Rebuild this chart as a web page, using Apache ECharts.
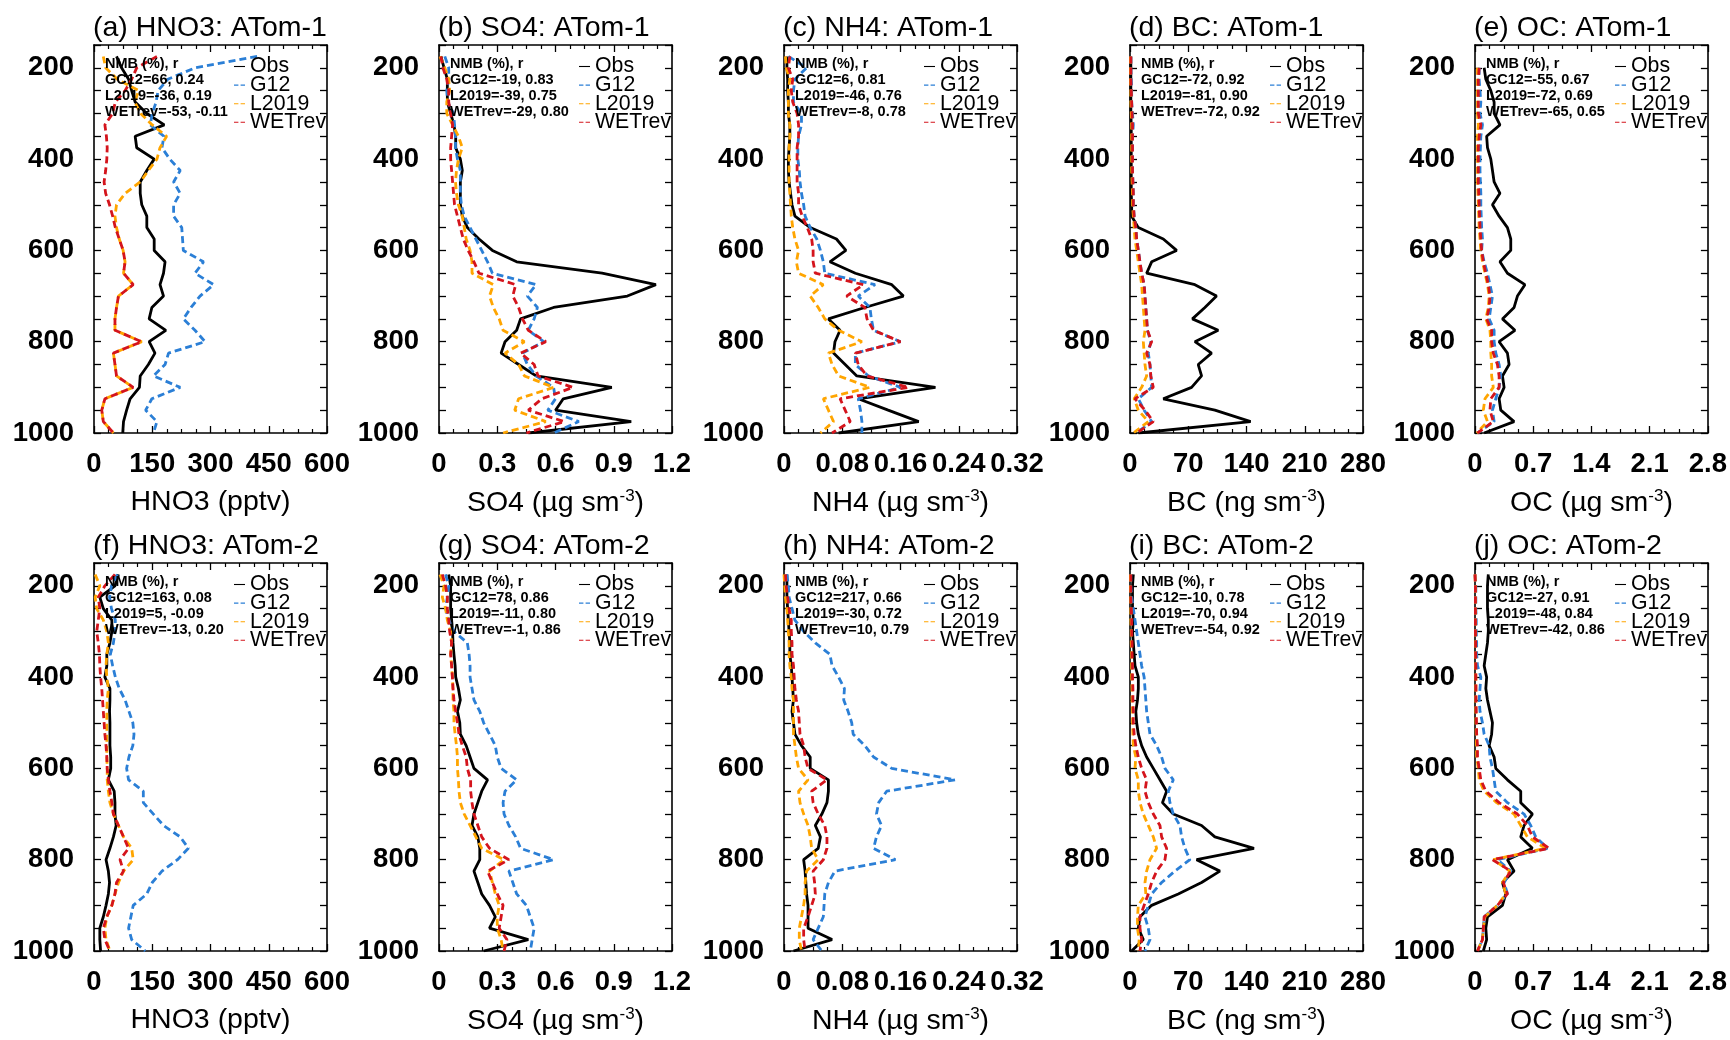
<!DOCTYPE html>
<html>
<head>
<meta charset="utf-8">
<script src="https://cdn.jsdelivr.net/npm/echarts@6/dist/echarts.min.js"></script>
<style>
  html, body { margin: 0; background: #fff; }
  #chart { width: 1730px; height: 1040px; }
</style>
</head>
<body>
<div id="chart"></div>
<script>
// pressure levels (hPa), shared by every profile
const pressure = [175, 200, 225, 250, 275, 300, 325, 350, 375, 400, 425, 450, 475, 500, 525, 550, 575,
  600, 625, 650, 675, 700, 725, 750, 775, 800, 825, 850, 875, 900, 925, 950, 975, 1000];

// ---- ATom-1 ----
const a1Obs = [58,71,89,97,106,136,181,106,110,155,136,119,119,123,136,136,155,155,183,179,170,179,149,142,185,142,157,140,119,117,93,84,76,74];
const a1G12 = [420,260,190,165,160,150,145,180,175,195,222,205,222,205,205,226,228,230,282,260,308,273,250,230,260,286,192,183,153,222,149,133,162,153];
const a1L2019 = [24,30,60,115,105,120,150,187,170,162,140,119,80,58,54,58,65,75,80,76,101,63,58,54,54,123,50,54,58,101,28,20,24,50];
const a1WETrev = [162,110,97,80,55,48,28,32,34,33,30,26,30,40,48,55,65,75,80,76,101,63,58,54,54,123,50,54,58,101,28,20,24,50];

const b1Obs = [0.01,0.026,0.043,0.043,0.043,0.06,0.077,0.086,0.086,0.11,0.12,0.11,0.11,0.11,0.12,0.146,0.206,0.275,0.40,0.84,1.117,0.97,0.59,0.42,0.40,0.34,0.32,0.41,0.50,0.89,0.64,0.60,0.99,0.46];
const b1G12 = [0.03,0.05,0.05,0.04,0.045,0.075,0.08,0.085,0.085,0.095,0.11,0.11,0.11,0.115,0.13,0.16,0.19,0.22,0.25,0.275,0.50,0.455,0.507,0.49,0.46,0.54,0.43,0.455,0.50,0.59,0.60,0.56,0.72,0.59];
const b1L2019 = [0.005,0.03,0.05,0.055,0.04,0.04,0.07,0.1,0.12,0.1,0.09,0.085,0.09,0.1,0.12,0.13,0.14,0.16,0.17,0.17,0.28,0.26,0.28,0.31,0.33,0.44,0.34,0.41,0.44,0.59,0.41,0.39,0.55,0.33];
const b1WETrev = [0.01,0.02,0.04,0.05,0.05,0.06,0.07,0.065,0.06,0.06,0.065,0.07,0.075,0.08,0.095,0.11,0.125,0.15,0.18,0.206,0.395,0.38,0.41,0.43,0.46,0.55,0.42,0.49,0.51,0.69,0.53,0.46,0.645,0.45];

const c1Obs = [0.004,0.004,0.005,0.005,0.006,0.006,0.008,0.008,0.007,0.006,0.006,0.007,0.009,0.011,0.015,0.036,0.072,0.085,0.063,0.098,0.148,0.164,0.111,0.061,0.077,0.070,0.068,0.084,0.10,0.208,0.102,0.143,0.185,0.075];
const c1G12 = [0.006,0.031,0.015,0.013,0.013,0.024,0.024,0.02,0.019,0.019,0.021,0.022,0.024,0.027,0.029,0.036,0.045,0.05,0.054,0.056,0.125,0.102,0.118,0.12,0.123,0.16,0.098,0.098,0.116,0.16,0.102,0.105,0.107,0.107];
const c1L2019 = [0.002,0.003,0.008,0.006,0.006,0.006,0.008,0.008,0.007,0.007,0.007,0.007,0.008,0.009,0.01,0.012,0.015,0.02,0.017,0.02,0.054,0.036,0.047,0.056,0.075,0.107,0.061,0.066,0.075,0.118,0.054,0.061,0.068,0.05];
const c1WETrev = [0.008,0.006,0.012,0.01,0.012,0.018,0.02,0.02,0.018,0.018,0.018,0.018,0.02,0.02,0.025,0.032,0.038,0.04,0.04,0.043,0.109,0.086,0.111,0.114,0.123,0.16,0.098,0.102,0.114,0.171,0.077,0.084,0.091,0.066];

const d1Obs = [1,1,1,1,1,1,1.5,1.5,1.5,1.5,1.5,1.5,1.5,2,2,10,40,56,26,20,78,104,90,75,106,78,98,82,86,74,40,102,145,10];
const d1G12 = [1,1,1.5,2,2,3,4,3,3,3,3,3.5,4,4,5,7,8,10,12,14,17,18,19,20,21,25,22,24,25,26,10,17,26,8];
const d1L2019 = [0.5,0.5,0.5,1,1,1.5,2,2,2,2,2,2.5,3,3,4,5,6,8,10,12,14,15,16,17,18,16,17,18,20,14,5,10,22,4];
const d1WETrev = [1,1,1,1.5,2,2.5,3,3,3,3,3,3.5,4,4,5,7,8,10,12,14,17,18,19,20,21,26,20,24,25,28,6,18,28,8];

const e1Obs = [null,0.11,0.13,0.19,0.23,0.23,0.30,0.14,0.15,0.19,0.21,0.23,0.30,0.21,0.29,0.39,0.43,0.43,0.30,0.39,0.60,0.51,0.47,0.33,0.48,0.29,0.39,0.41,0.33,0.35,0.29,0.31,0.47,0.11];
const e1G12 = [null,0.05,0.05,0.06,0.07,0.06,0.09,0.07,0.065,0.06,0.06,0.065,0.07,0.07,0.075,0.08,0.09,0.08,0.11,0.15,0.18,0.21,0.19,0.17,0.23,0.23,0.25,0.29,0.31,0.29,0.25,0.21,0.23,0.03];
const e1L2019 = [null,0.03,0.03,0.03,0.03,0.03,0.04,0.03,0.03,0.03,0.03,0.03,0.035,0.04,0.045,0.05,0.06,0.07,0.09,0.12,0.15,0.17,0.16,0.13,0.18,0.19,0.19,0.20,0.20,0.22,0.12,0.10,0.15,0.02];
const e1WETrev = [null,0.05,0.04,0.04,0.04,0.04,0.07,0.05,0.04,0.04,0.04,0.04,0.045,0.05,0.055,0.06,0.07,0.08,0.10,0.13,0.16,0.18,0.17,0.14,0.20,0.20,0.22,0.27,0.29,0.29,0.19,0.18,0.22,0.03];

// ---- ATom-2 ----
const f2Obs = [63,54,15,24,46,46,41,33,33,28,41,41,40,41,41,41,43,43,37,52,54,54,57,50,41,31,37,40,37,31,24,15,15,17];
const f2G12 = [60,45,40,45,55,54,50,42,48,55,65,80,90,100,103,100,90,84,89,127,127,153,179,222,243,215,175,150,136,101,95,89,97,132];
const f2L2019 = [3,15,3,7,24,33,37,33,31,33,37,34,33,33,33,33,33,34,34,37,41,50,63,76,97,101,76,63,54,46,33,28,31,41];
const f2WETrev = [54,28,11,15,11,7,11,14,15,17,20,22,24,26,28,31,33,34,37,41,46,50,63,76,89,67,76,58,54,46,33,24,28,41];

const g2Obs = [0.05,0.06,0.06,0.06,0.065,0.07,0.072,0.077,0.083,0.086,0.10,0.11,0.095,0.107,0.11,0.14,0.16,0.18,0.25,0.22,0.20,0.18,0.17,0.20,0.21,0.21,0.18,0.20,0.22,0.26,0.29,0.26,0.46,0.23];
const g2G12 = [0.034,0.05,0.043,0.034,0.05,0.077,0.146,0.155,0.16,0.16,0.17,0.18,0.21,0.23,0.26,0.29,0.30,0.32,0.40,0.34,0.33,0.335,0.36,0.395,0.42,0.59,0.36,0.38,0.40,0.45,0.47,0.49,0.48,0.47];
const g2L2019 = [0.005,0.026,0.017,0.034,0.043,0.06,0.065,0.06,0.065,0.069,0.072,0.072,0.077,0.077,0.083,0.09,0.095,0.095,0.10,0.103,0.11,0.13,0.16,0.19,0.22,0.335,0.26,0.275,0.29,0.31,0.30,0.30,0.32,0.33];
const g2WETrev = [0.017,0.034,0.043,0.043,0.05,0.055,0.065,0.06,0.065,0.069,0.072,0.077,0.086,0.095,0.103,0.12,0.14,0.146,0.163,0.163,0.17,0.18,0.20,0.22,0.26,0.36,0.25,0.275,0.30,0.33,0.32,0.31,0.35,0.335];

const h2Obs = [0.004,0.004,0.004,0.005,0.006,0.007,0.008,0.008,0.010,0.011,0.012,0.013,0.011,0.013,0.015,0.024,0.036,0.036,0.061,0.061,0.059,0.052,0.043,0.05,0.047,0.027,0.029,0.030,0.031,0.033,0.033,0.033,0.066,0.013];
const h2G12 = [0.004,0.006,0.007,0.011,0.015,0.027,0.043,0.063,0.066,0.075,0.083,0.082,0.088,0.093,0.095,0.111,0.123,0.148,0.235,0.141,0.13,0.127,0.134,0.127,0.123,0.153,0.07,0.061,0.056,0.055,0.054,0.047,0.04,0.052];
const h2L2019 = [0.0,0.001,0.002,0.004,0.005,0.006,0.007,0.007,0.008,0.010,0.011,0.013,0.013,0.013,0.013,0.015,0.017,0.020,0.033,0.020,0.022,0.027,0.033,0.036,0.038,0.047,0.031,0.029,0.029,0.027,0.024,0.021,0.021,0.024];
const h2WETrev = [0.002,0.003,0.005,0.007,0.01,0.01,0.011,0.011,0.013,0.014,0.015,0.017,0.020,0.021,0.022,0.027,0.029,0.033,0.059,0.038,0.040,0.047,0.056,0.059,0.059,0.054,0.040,0.042,0.043,0.038,0.033,0.027,0.027,0.029];

const i2Obs = [4,3,3,3,4,3,4,5,6,10,10,9,7,8,10,14,20,28,36,44,39,52,86,102,149,80,108,86,58,26,12,10,16,2];
const i2G12 = [1,1,2,4,6,8,10,12,14,17,18,19,20,22,24,32,38,42,52,46,48,52,60,62,66,72,54,38,26,22,18,22,24,18];
const i2L2019 = [0.5,0.5,0.8,1,1,1.5,1.5,2,2,2,2.5,2.5,3,3,3.5,4,7,6,10,10,12,16,22,28,32,24,20,18,19,10,9,9,11,10];
const i2WETrev = [1,1,1,1.5,2,2,2.5,2.5,3,3,3.5,3.5,4,4,5,7,10,14,20,18,22,28,36,38,44,42,32,26,22,17,12,12,14,12];

const j2Obs = [0.16,0.15,0.15,0.15,0.16,0.16,0.15,0.13,0.11,0.14,0.13,0.15,0.18,0.21,0.20,0.17,0.23,0.25,0.39,0.55,0.55,0.69,0.59,0.55,0.69,0.39,0.47,0.33,0.37,0.33,0.15,0.13,0.14,0.10];
const j2G12 = [0.0,0.01,0.01,0.01,0.015,0.015,0.02,0.02,0.03,0.07,0.06,0.05,0.06,0.09,0.11,0.17,0.18,0.21,0.23,0.25,0.39,0.59,0.67,0.73,0.87,0.27,0.43,0.35,0.39,0.27,0.11,0.10,0.09,0.03];
const j2L2019 = [0.0,0.005,0.005,0.005,0.005,0.005,0.008,0.008,0.008,0.01,0.01,0.01,0.01,0.012,0.015,0.018,0.02,0.04,0.05,0.11,0.26,0.47,0.55,0.63,0.85,0.22,0.42,0.33,0.37,0.27,0.12,0.10,0.09,0.03];
const j2WETrev = [0.0,0.005,0.005,0.005,0.005,0.005,0.008,0.008,0.01,0.01,0.012,0.012,0.015,0.018,0.02,0.03,0.03,0.05,0.07,0.13,0.29,0.51,0.63,0.69,0.89,0.21,0.43,0.34,0.39,0.27,0.11,0.10,0.09,0.03];

// NMB (%) and r printed in each panel
const nmbText = [
  ['GC12=66, 0.24', 'L2019=-36, 0.19', 'WETrev=-53, -0.11'],
  ['GC12=-19, 0.83', 'L2019=-39, 0.75', 'WETrev=-29, 0.80'],
  ['GC12=6, 0.81', 'L2019=-46, 0.76', 'WETrev=-8, 0.78'],
  ['GC12=-72, 0.92', 'L2019=-81, 0.90', 'WETrev=-72, 0.92'],
  ['GC12=-55, 0.67', 'L2019=-72, 0.69', 'WETrev=-65, 0.65'],
  ['GC12=163, 0.08', 'L2019=5, -0.09', 'WETrev=-13, 0.20'],
  ['GC12=78, 0.86', 'L2019=-11, 0.80', 'WETrev=-1, 0.86'],
  ['GC12=217, 0.66', 'L2019=-30, 0.72', 'WETrev=10, 0.79'],
  ['GC12=-10, 0.78', 'L2019=-70, 0.94', 'WETrev=-54, 0.92'],
  ['GC12=-27, 0.91', 'L2019=-48, 0.84', 'WETrev=-42, 0.86']
];

const species = ['HNO3', 'SO4', 'NH4', 'BC', 'OC'];
const xMax = [600, 1.2, 0.32, 280, 2.8];
const xStep = [150, 0.3, 0.08, 70, 0.7];
const xNames = ['HNO3 (pptv)', '{n|SO4 (µg sm}{s|-3}{n|)}', '{n|NH4 (µg sm}{s|-3}{n|)}', '{n|BC (ng sm}{s|-3}{n|)}', '{n|OC (µg sm}{s|-3}{n|)}'];
const tags = ['(a)', '(b)', '(c)', '(d)', '(e)', '(f)', '(g)', '(h)', '(i)', '(j)'];
const missions = ['ATom-1', 'ATom-2'];
const seriesNames = ['Obs', 'G12', 'L2019', 'WETrev'];
const seriesColors = ['#000000', '#2b7fd6', '#ffa500', '#d4141c'];

const profiles = [
  [a1Obs, a1G12, a1L2019, a1WETrev], [b1Obs, b1G12, b1L2019, b1WETrev], [c1Obs, c1G12, c1L2019, c1WETrev],
  [d1Obs, d1G12, d1L2019, d1WETrev], [e1Obs, e1G12, e1L2019, e1WETrev],
  [f2Obs, f2G12, f2L2019, f2WETrev], [g2Obs, g2G12, g2L2019, g2WETrev], [h2Obs, h2G12, h2L2019, h2WETrev],
  [i2Obs, i2G12, i2L2019, i2WETrev], [j2Obs, j2G12, j2L2019, j2WETrev]
];

// layout
const colLeft = [94, 439, 784, 1130, 1475];
const rowTop = [45, 563];
const plotW = 233, plotH = 388;
const FONT = 'Liberation Sans';
// legend glyphs: solid bar for Obs, two short dashes for the models
const solidIcon = 'path://M0,0h10v1h-10z';
const dashIcon = 'path://M0,0h4v1h-4zM6,0h4v1h-4z';

const chart = echarts.init(document.getElementById('chart'));
const grid = [], xAxis = [], yAxis = [], series = [], legend = [], graphic = [];

profiles.forEach((set, p) => {
  const col = p % 5, row = Math.floor(p / 5);
  const left = colLeft[col], top = rowTop[row];
  grid.push({ left: left, top: top, width: plotW, height: plotH });

  const tick = { show: true, inside: true, length: 7, lineStyle: { color: '#000', width: 1.3 } };
  const line = { show: true, onZero: false, lineStyle: { color: '#000', width: 1.6 } };
  const xBase = { type: 'value', gridIndex: p, min: 0, max: xMax[col], interval: xStep[col],
    splitLine: { show: false }, axisLine: line, axisTick: tick,
    minorTick: { show: true, splitNumber: 4, length: 4, lineStyle: { color: '#000', width: 1.2 } } };
  xAxis.push(Object.assign({}, xBase, {
    position: 'bottom',
    axisLabel: { margin: 17, fontSize: 27.5, fontWeight: 'bold', color: '#000', fontFamily: FONT, showMaxLabel: true, hideOverlap: false },
    name: xNames[col], nameLocation: 'middle', nameGap: 55,
    nameTextStyle: { fontSize: 28.5, color: '#000', fontFamily: FONT,
      rich: { n: { fontSize: 28.5, color: '#000', fontFamily: FONT, lineHeight: 31 },
              s: { fontSize: 17, color: '#000', fontFamily: FONT, verticalAlign: 'top', lineHeight: 31 } } }
  }));
  xAxis.push(Object.assign({}, xBase, { position: 'top', axisLabel: { show: false } }));

  const yBase = { type: 'value', gridIndex: p, inverse: true, min: 150, max: 1000, interval: 50,
    splitLine: { show: false }, axisLine: line, axisTick: tick };
  yAxis.push(Object.assign({}, yBase, {
    position: 'left',
    axisLabel: { margin: 20, fontSize: 27.5, fontWeight: 'bold', color: '#000', fontFamily: FONT,
      formatter: v => (v % 200 === 0 ? String(v) : '') }
  }));
  yAxis.push(Object.assign({}, yBase, { position: 'right', axisLabel: { show: false } }));

  set.forEach((vals, k) => {
    series.push({
      name: seriesNames[k], type: 'line', xAxisIndex: 2 * p, yAxisIndex: 2 * p,
      symbol: 'none', silent: true, animation: false, z: 2 + k,
      lineStyle: { color: seriesColors[k], width: 2.8, type: k === 0 ? 'solid' : [7, 4] },
      itemStyle: { color: seriesColors[k] },
      data: vals.map((v, i) => [v, pressure[i]]).filter(d => d[0] !== null)
    });
  });

  legend.push({
    orient: 'vertical', left: left + 140, top: top + 11, padding: 0,
    itemWidth: 11, itemHeight: 4, itemGap: -2.4, selectedMode: false,
    itemStyle: { borderWidth: 0 },
    textStyle: { fontSize: 21.3, color: '#000', fontFamily: FONT },
    data: seriesNames.map((n, k) => ({ name: n, icon: k === 0 ? solidIcon : dashIcon,
      itemStyle: { color: seriesColors[k], borderWidth: 0 } }))
  });

  // panel title
  graphic.push({ type: 'text', x: left - 1, y: top - 17,
    style: { text: tags[p] + ' ' + species[col] + ': ' + missions[row], font: '28.5px "' + FONT + '"',
      fill: '#000', verticalAlign: 'middle', align: 'left' } });
  // NMB / r block
  ['NMB (%), r'].concat(nmbText[p]).forEach((t, j) => {
    graphic.push({ type: 'text', x: left + 11, y: top + 18.5 + j * 16.1, z: 10,
      style: { text: t, font: 'bold 14.5px "' + FONT + '"', fill: '#000', verticalAlign: 'middle', align: 'left' } });
  });
});

chart.setOption({
  backgroundColor: '#fff',
  animation: false,
  textStyle: { fontFamily: FONT },
  grid, xAxis, yAxis, series, legend, graphic
});
</script>
</body>
</html>
